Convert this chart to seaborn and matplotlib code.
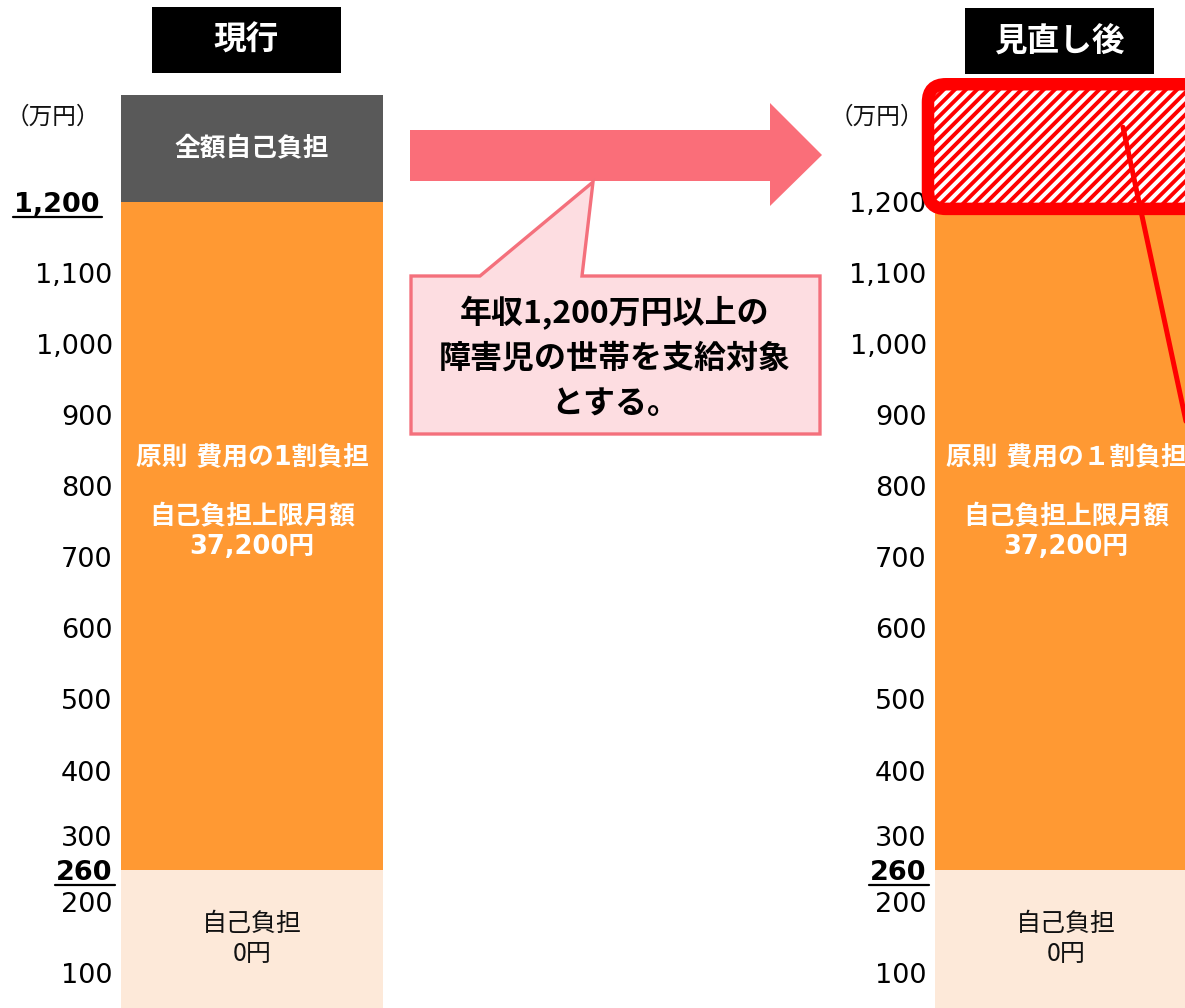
# %%
import numpy as np
import pandas as pd
import seaborn as sns
import matplotlib
matplotlib.use("Agg")
import matplotlib.pyplot as plt
from matplotlib.patches import Rectangle, Polygon, FancyBboxPatch
from matplotlib.lines import Line2D
from matplotlib.transforms import IdentityTransform, ScaledTranslation

#%% data
panels = ["現行", "見直し後"]
band_names = ["自己負担0円", "1割負担", "全額自己負担"]
band_tops = [260, 1200, 1350]   # upper edge of each income band (万円)
band_colors = ["#FDE9D9", "#FF9933", "#595959"]

tick_values = [100, 200, 260, 300, 400, 500, 600, 700, 800, 900, 1000, 1100, 1200]
tick_labels = ["100", "200", "260", "300", "400", "500", "600", "700",
               "800", "900", "1,000", "1,100", "1,200"]
bold_ticks = {"現行": ["260", "1,200"], "見直し後": ["260"]}

mid_texts = {"現行": "原則 費用の1割負担\n\n自己負担上限月額\n37,200円",
             "見直し後": "原則 費用の１割負担\n\n自己負担上限月額\n37,200円"}
top_text = "全額自己負担"
low_text = "自己負担\n0円"
callout_text = "年収1,200万円以上の\n障害児の世帯を支給対象\nとする。"
unit_text = "（万円）"

#%% style
sns.set_theme(style="white")
plt.rcParams["font.family"] = ["DejaVu Sans", "Noto Sans CJK JP"]
plt.rcParams["hatch.linewidth"] = 2.8
cjk = ["Noto Sans CJK JP", "DejaVu Sans"]
latin_first = ["DejaVu Sans", "Noto Sans CJK JP"]

W, H = 1185, 1008
def fx(x, y):
    return x / W, 1 - y / H

# small nudges of individual tick labels, in pixels (dx, dy)
label_nudge = {"300": (0, 6), "200": (0, 11), "100": (0, 11)}

fig = plt.figure(figsize=(W / 100, H / 100), dpi=100)
axes = {
    "現行": fig.add_axes([121 / W, 0, 262 / W, 1]),
    "見直し後": fig.add_axes([935 / W, 0, 262 / W, 1]),
}

for name, ax in axes.items():
    # stacked bar: draw the tallest band first, smaller ones on top
    for top, col in reversed(list(zip(band_tops, band_colors))):
        sns.barplot(x=[name], y=[top], color=col, width=1, saturation=1,
                    linewidth=0, ax=ax)
    ax.set_xlim(-0.5, 0.5)
    ax.set_ylim(66, 1484)
    ax.set_xticks([])
    ax.set_xlabel("")
    ax.set_ylabel("")
    ax.set_yticks(tick_values, labels=tick_labels)
    ax.tick_params(axis="y", length=0, pad=6, labelsize=19.5, labelcolor="black")
    sns.despine(ax=ax, left=True, bottom=True)
    for lab in ax.get_yticklabels():
        txt = lab.get_text()
        dx, dy = label_nudge.get(txt, (0, 0))
        if txt in bold_ticks[name]:
            lab.set_fontweight("bold")
            if txt == "1,200":
                dx = -13
        if dx or dy:
            lab.set_transform(lab.get_transform() +
                              ScaledTranslation(dx / 100, dy / 100, fig.dpi_scale_trans))

    ax.text(0, 778, mid_texts[name], ha="center", va="center", color="white",
            fontsize=18.5, fontweight="bold", family=latin_first, linespacing=1.2)
    ax.text(0, 163, low_text, ha="center", va="center", color="#111111",
            fontsize=18, family=cjk, linespacing=1.17)

axes["現行"].text(0, np.mean(band_tops[1:]), top_text, ha="center", va="center",
                 color="white", fontsize=18.5, fontweight="bold", family=cjk)

# right panel: top band becomes hatched (newly covered)
ax_r = axes["見直し後"]
top_bar = ax_r.patches[0]
top_bar.set_facecolor("white")
top_bar.set_edgecolor("red")
top_bar.set_hatch("///")

# red rounded frame around the hatched band
(x0, y0), (x1, y1) = ax_r.transData.transform([(-0.5, band_tops[1]), (0.5, band_tops[2])])
frame = FancyBboxPatch((x0, y0), x1 - x0, y1 - y0 + 4,
                       boxstyle="round,pad=7,rounding_size=18",
                       transform=IdentityTransform(), facecolor="white",
                       edgecolor="red", hatch="///", linewidth=9, zorder=3)
fig.add_artist(frame)

# connector line leaving the frame to the right
p0 = ax_r.transData.transform((0.2176, 1305))
p1 = fig.transFigure.transform(fx(1205, 510))
fig.add_artist(Line2D([p0[0], p1[0]], [p0[1], p1[1]], color="red", lw=3.6,
                      transform=IdentityTransform(), zorder=4))

# panel titles
for name, (bx, by) in zip(panels, [(152, 7), (965, 8)]):
    left, top = fx(bx, by)
    fig.add_artist(Rectangle((left, top - 66 / H), 189 / W, 66 / H,
                             transform=fig.transFigure, facecolor="black",
                             edgecolor="none", zorder=3))
    fig.text(left + 189 / W / 2, top - 33 / H, name, ha="center", va="center",
             color="white", fontsize=23.5, fontweight="bold", family=cjk, zorder=4)

for ux in [53, 877]:
    fig.text(*fx(ux, 117), unit_text, ha="center", va="center", fontsize=17,
             family=cjk, color="#111111")

# big arrow between the panels
arrow_pts = [(410, 130), (770, 130), (770, 103), (822, 155),
             (770, 206), (770, 181), (410, 181)]
fig.add_artist(Polygon([fx(*p) for p in arrow_pts], closed=True,
                       transform=fig.transFigure, facecolor="#FA6E79",
                       edgecolor="none", zorder=3))

# callout
callout_pts = [(411, 276), (480, 276), (593, 182), (582, 276),
               (820, 276), (820, 434), (411, 434)]
fig.add_artist(Polygon([fx(*p) for p in callout_pts], closed=True,
                       transform=fig.transFigure, facecolor="#FDDDE1",
                       edgecolor="#F4707C", linewidth=2.4, joinstyle="miter",
                       zorder=3))
fig.text(*fx(615, 358), callout_text, ha="center", va="center", fontsize=23,
         fontweight="bold", family=cjk, linespacing=1.5, color="black", zorder=4)

# underline the emphasised tick labels
fig.canvas.draw()
renderer = fig.canvas.get_renderer()
for name, ax in axes.items():
    for lab in ax.get_yticklabels():
        if lab.get_text() in bold_ticks[name]:
            bb = lab.get_window_extent(renderer)
            fig.add_artist(Line2D([bb.x0 - 1, bb.x1 + 2], [bb.y0 + 1, bb.y0 + 1],
                                  color="black", lw=1.6,
                                  transform=IdentityTransform()))

fig.savefig("out.png", dpi=100)
